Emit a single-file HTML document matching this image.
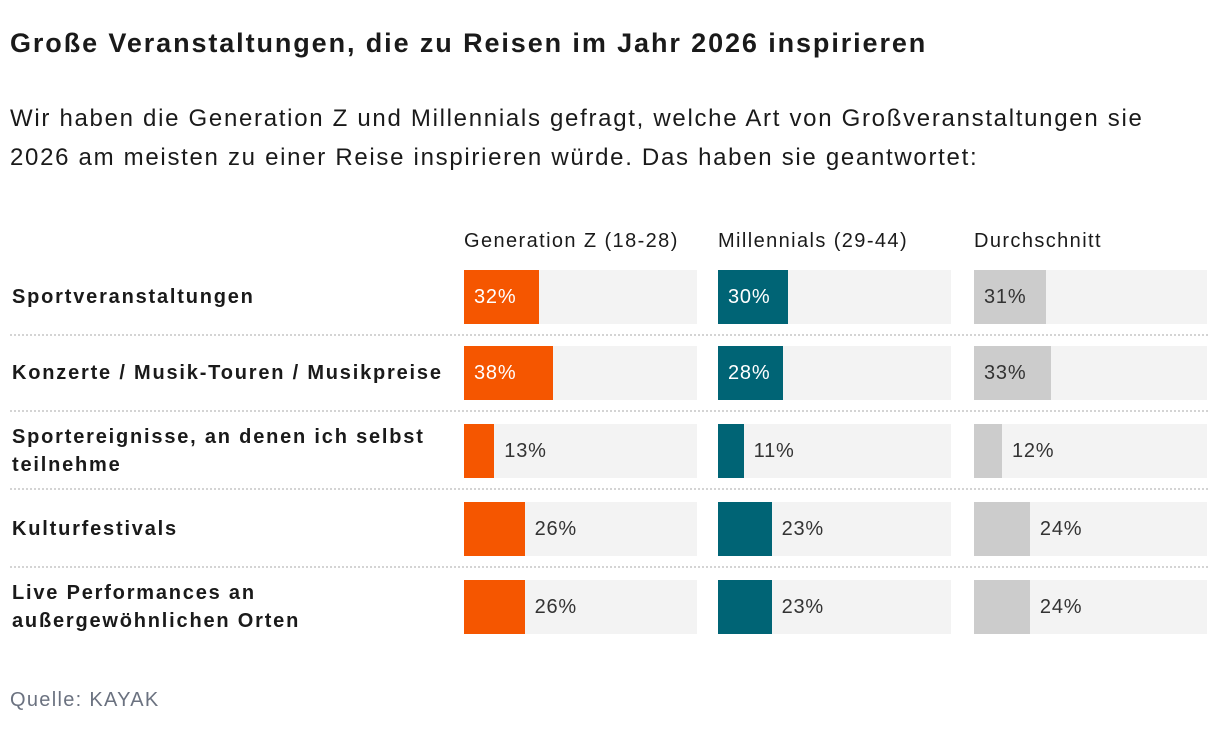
<!DOCTYPE html>
<html><head><meta charset="utf-8"><style>
body{margin:0;width:1220px;height:730px;background:#fff;font-family:"Liberation Sans",sans-serif;color:#1a1a1a;position:relative;overflow:hidden}
.abs{position:absolute;white-space:nowrap}
h1{position:absolute;left:10px;top:28px;margin:0;font-size:27px;font-weight:bold;letter-spacing:1.9px;white-space:nowrap}
.sub{left:10px;top:99px;font-size:24px;line-height:39px;letter-spacing:1.7px}
.hdr{top:230px;font-size:20px;letter-spacing:1.4px}
.rl{left:12px;font-size:20px;font-weight:bold;line-height:28px;letter-spacing:1.8px}
.sep{left:10px;width:1198px;border-top:2px dotted #d4d4d4;height:0}
.src{left:10px;top:689px;font-size:20px;color:#6b7280;letter-spacing:1.3px}
</style></head><body>
<h1>Große Veranstaltungen, die zu Reisen im Jahr 2026 inspirieren</h1>
<div class="abs sub">Wir haben die Generation Z und Millennials gefragt, welche Art von Großveranstaltungen sie<br>2026 am meisten zu einer Reise inspirieren würde. Das haben sie geantwortet:</div>
<div id="chart"></div>
<div class="abs src">Quelle: KAYAK</div>
<script>
const categories=["Sportveranstaltungen","Konzerte / Musik-Touren / Musikpreise","Sportereignisse, an denen ich selbst|teilnehme","Kulturfestivals","Live Performances an|außergewöhnlichen Orten"];
const seriesNames=["Generation Z (18-28)","Millennials (29-44)","Durchschnitt"];
const genZ=[32,38,13,26,26];
const millennials=[30,28,11,23,23];
const average=[31,33,12,24,24];
const series=[genZ,millennials,average];
const colX=[464,718,974],trackW=233,colors=["#f55600","#006475","#cccccc"],txtIn=["#fff","#fff","#333"];
const rowY=[270,346,424,502,580],barH=54;
const x=v=>v/100*trackW;
const root=document.getElementById('chart');
function mk(cls,css,txt){const d=document.createElement('div');d.className='abs '+(cls||'');d.style.cssText=css;if(txt!=null)d.innerHTML=txt;root.appendChild(d);return d;}
seriesNames.forEach((n,j)=>{const h=mk('hdr',`left:${colX[j]}px`,n);

});
categories.forEach((c,i)=>{const y=rowY[i];const lines=c.split('|');
const l=mk('rl',`top:${y+barH/2-lines.length*14}px`,lines.join('<br>'));


if(i<categories.length-1){const s=mk('sep',`top:${y+barH+10}px`);

}
series.forEach((arr,j)=>{const v=arr[i];
const t=mk('',`left:${colX[j]}px;top:${y}px;width:${trackW}px;height:${barH}px;background:#f3f3f3`);


const w=x(v);
const b=mk('',`left:${colX[j]}px;top:${y}px;width:${w}px;height:${barH}px;background:${colors[j]}`);


const inside=v>=27;
const lb=mk('',`left:${inside?colX[j]+10:colX[j]+w+10}px;top:${y}px;line-height:${barH}px;font-size:20px;letter-spacing:0.8px;color:${inside?txtIn[j]:'#333'}`,v+'%');

});});
</script>
</body></html>
